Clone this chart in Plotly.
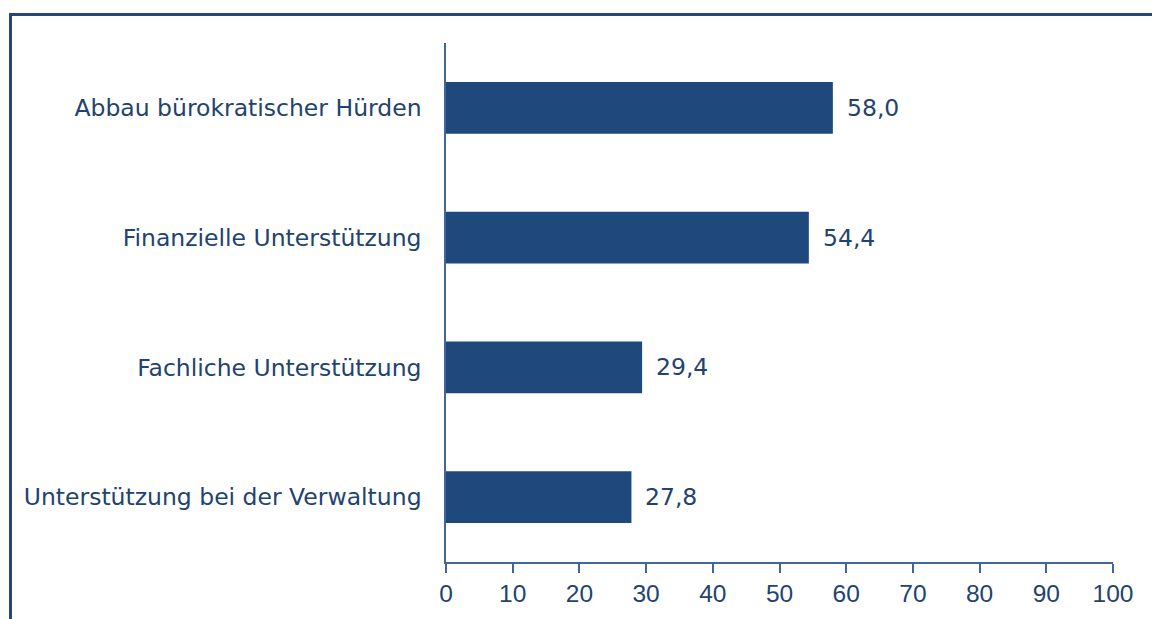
import plotly.graph_objects as go

categories = [
    "Abbau bürokratischer Hürden",
    "Finanzielle Unterstützung",
    "Fachliche Unterstützung",
    "Unterstützung bei der Verwaltung",
]
values = [58.0, 54.4, 29.4, 27.8]
x_ticks = [0, 10, 20, 30, 40, 50, 60, 70, 80, 90, 100]

BAR = "#1F497D"
TEXT = "#22436F"
AXIS = "#3F679A"
LABEL_FONT = "DejaVu Sans, Verdana, sans-serif"
TICK_FONT = "Liberation Sans, Arial, sans-serif"

W, H = 1152, 619
ML, MR, MT, MB = 446, 39, 43, 57
PW, PH = W - ML - MR, H - MT - MB

def fmt(v):
    return f"{v:.1f}".replace(".", ",")

fig = go.Figure(
    go.Bar(
        x=values,
        y=categories,
        orientation="h",
        marker=dict(color=BAR, line=dict(width=0)),
        width=0.4,
        hoverinfo="skip",
    )
)

for cat, v in zip(categories, values):
    fig.add_annotation(
        x=v, y=cat, text=fmt(v), showarrow=False,
        xanchor="left", yanchor="middle", xshift=12,
        font=dict(family=LABEL_FONT, size=23.5, color=TEXT),
    )

# outer frame: top and left border lines
def px_x(p):
    return (p - ML) / PW

def px_y(p):
    return (H - MB - p) / PH

fig.add_shape(type="line", xref="paper", yref="paper",
              x0=px_x(9), x1=px_x(W + 5), y0=px_y(14.5), y1=px_y(14.5),
              line=dict(color="#24487A", width=3), layer="above")
fig.add_shape(type="line", xref="paper", yref="paper",
              x0=px_x(10.5), x1=px_x(10.5), y0=px_y(13), y1=px_y(H + 5),
              line=dict(color="#24487A", width=3), layer="above")

fig.update_layout(
    width=W, height=H,
    margin=dict(l=ML, r=MR, t=MT, b=MB, pad=0),
    paper_bgcolor="white", plot_bgcolor="white",
    showlegend=False,
    font=dict(family=LABEL_FONT, size=23.5, color=TEXT),
    xaxis=dict(
        range=[0, 100], tickvals=x_ticks, ticktext=[str(t) for t in x_ticks],
        showgrid=False, zeroline=False,
        showline=True, linecolor=AXIS, linewidth=1.5,
        ticks="outside", ticklen=9, tickwidth=1.5, tickcolor=AXIS,
        tickfont=dict(family=TICK_FONT, size=24.5, color=TEXT),
        fixedrange=True,
    ),
    yaxis=dict(
        categoryorder="array", categoryarray=categories[::-1],
        range=[-0.5, 3.5],
        showgrid=False, zeroline=False,
        showline=True, linecolor=AXIS, linewidth=1.5,
        ticks="", ticklabelstandoff=18,
        tickfont=dict(family=LABEL_FONT, size=23.5, color=TEXT),
        fixedrange=True,
    ),
)

fig.write_html("out.html")
